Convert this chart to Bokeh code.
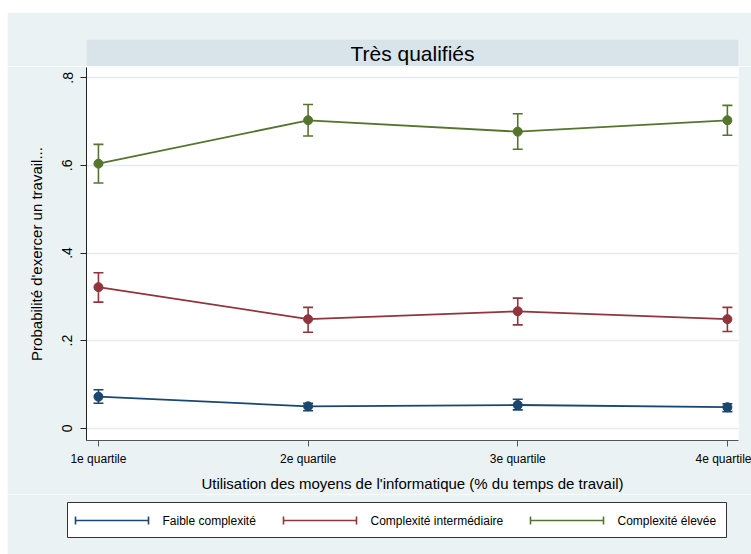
from bokeh.plotting import figure
from bokeh.layouts import column, row
from bokeh.models import Range1d, FixedTicker, Spacer
from bokeh.core.properties import value
from bokeh.embed import file_html
from bokeh.resources import INLINE

# ---------------- data ----------------
quartiles = [1, 2, 3, 4]
quartile_labels = ["1e quartile", "2e quartile", "3e quartile", "4e quartile"]
series_names = ["Faible complexité", "Complexité intermédiaire", "Complexité élevée"]

faible = [0.072, 0.050, 0.053, 0.048]
faible_lo = [0.057, 0.040, 0.042, 0.038]
faible_hi = [0.088, 0.057, 0.066, 0.056]

inter = [0.322, 0.249, 0.267, 0.249]
inter_lo = [0.288, 0.219, 0.236, 0.221]
inter_hi = [0.355, 0.276, 0.297, 0.276]

elevee = [0.604, 0.703, 0.677, 0.703]
elevee_lo = [0.560, 0.667, 0.637, 0.669]
elevee_hi = [0.648, 0.739, 0.718, 0.737]

y_ticks = [0, 0.2, 0.4, 0.6, 0.8]
y_tick_labels = ["0", ".2", ".4", ".6", ".8"]

title_text = "Très qualifiés"
x_title = "Utilisation des moyens de l'informatique (% du temps de travail)"
y_title = "Probabilité d'exercer un travail..."

# ---------------- style ----------------
FONT = "Liberation Sans"
BG = "#eaf2f3"
BAND = "#d8e4ea"
GRID = "#e4ecf0"
COLORS = ["#1a476f", "#90353b", "#55752f"]
W = 744          # figure width (7px white strip on the left)
LEFT = 79        # frame left border
RIGHT = 13       # frame right border

# ---------------- title band ----------------
pa = figure(width=W, height=54, x_range=Range1d(0, 1), y_range=Range1d(0, 1),
            x_axis_type=None, y_axis_type=None,
            output_backend="svg", toolbar_location=None,
            min_border_left=LEFT, min_border_right=RIGHT, min_border_top=27, min_border_bottom=0)
pa.background_fill_color = BAND
pa.border_fill_color = BG
pa.outline_line_color = None
pa.grid.visible = False
pa.text(x=[0.5], y=[0.5], text=[title_text], text_align="center", text_baseline="middle",
        text_font=value(FONT), text_font_size="21px", text_color="#000000")

# ---------------- main plot ----------------
p = figure(width=W, height=428, x_range=Range1d(0.943, 4.053), y_range=Range1d(-0.028, 0.8235),
           output_backend="svg", toolbar_location=None,
           min_border_left=LEFT, min_border_right=RIGHT, min_border_top=1, min_border_bottom=54)
p.background_fill_color = "#ffffff"
p.border_fill_color = BG
p.outline_line_color = None

p.xgrid.visible = False
p.ygrid.ticker = FixedTicker(ticks=y_ticks)
p.ygrid.grid_line_color = GRID
p.ygrid.grid_line_width = 1.5

p.xaxis.ticker = FixedTicker(ticks=quartiles)
p.xaxis.major_label_overrides = {q: l for q, l in zip(quartiles, quartile_labels)}
p.yaxis.ticker = FixedTicker(ticks=y_ticks)
p.yaxis.major_label_overrides = {t: l for t, l in zip(y_ticks, y_tick_labels)}
p.yaxis.major_label_orientation = "vertical"

for ax in (p.xaxis[0], p.yaxis[0]):
    ax.major_tick_out = 6
    ax.major_tick_in = 0
    ax.minor_tick_out = 0
    ax.minor_tick_in = 0
    ax.major_label_text_font = FONT
    ax.axis_label_text_font = FONT
    ax.axis_label_text_font_style = "normal"
    ax.major_label_text_color = "#000000"
    ax.axis_label_text_color = "#000000"

p.xaxis.axis_line_color = "#555555"
p.xaxis.major_tick_line_color = "#555555"
p.yaxis.axis_line_color = "#222222"
p.yaxis.major_tick_line_color = "#222222"

p.xaxis.major_label_text_font_size = "12px"
p.xaxis.major_label_standoff = 5
p.xaxis.axis_label = x_title
p.xaxis.axis_label_text_font_size = "15px"
p.xaxis.axis_label_standoff = 6

p.yaxis.major_label_text_font_size = "14px"
p.yaxis.major_label_standoff = 8
p.yaxis.axis_label = y_title
p.yaxis.axis_label_text_font_size = "15px"
p.yaxis.axis_label_standoff = 15

series = [(faible, faible_lo, faible_hi), (inter, inter_lo, inter_hi), (elevee, elevee_lo, elevee_hi)]
for (vals, lo, hi), col in zip(series, COLORS):
    p.line(quartiles, vals, line_color=col, line_width=1.8)
    p.segment(x0=quartiles, y0=lo, x1=quartiles, y1=hi, line_color=col, line_width=1.6)
    p.scatter(quartiles, lo, marker="dash", size=10, line_color=col, line_width=1.6)
    p.scatter(quartiles, hi, marker="dash", size=10, line_color=col, line_width=1.6)
    p.scatter(quartiles, vals, marker="circle", size=9, fill_color=col, line_color=col)

# ---------------- legend box (its own small figure, pixel-like coordinates) ----------------
pl = figure(width=W, height=60, x_range=Range1d(0, 659), y_range=Range1d(0, 35),
            x_axis_type=None, y_axis_type=None,
            output_backend="svg", toolbar_location=None,
            min_border_left=60, min_border_right=25, min_border_top=8, min_border_bottom=17)
pl.background_fill_color = "#ffffff"
pl.border_fill_color = BG
pl.outline_line_color = "#333333"
pl.outline_line_width = 1
pl.grid.visible = False

sample_x0 = [8, 216, 463]
sample_len = 73
text_x = [95, 303, 550]
yc = 17
for x0, tx, name, col in zip(sample_x0, text_x, series_names, COLORS):
    pl.segment(x0=[x0], y0=[yc], x1=[x0 + sample_len], y1=[yc], line_color=col, line_width=1.6)
    pl.segment(x0=[x0, x0 + sample_len], y0=[yc - 4, yc - 4], x1=[x0, x0 + sample_len], y1=[yc + 4, yc + 4],
               line_color=col, line_width=1.6)
    pl.text(x=[tx], y=[yc], text=[name], text_align="left", text_baseline="middle",
            text_font=value(FONT), text_font_size="12px", text_color="#000000")

top_part = row(Spacer(width=7), column(Spacer(height=12), pa, p, spacing=0), spacing=0)
bottom_part = row(Spacer(width=7), pl, spacing=0)
layout = column(top_part, bottom_part, spacing=0)
open("out.html", "w").write(file_html(layout, INLINE))
